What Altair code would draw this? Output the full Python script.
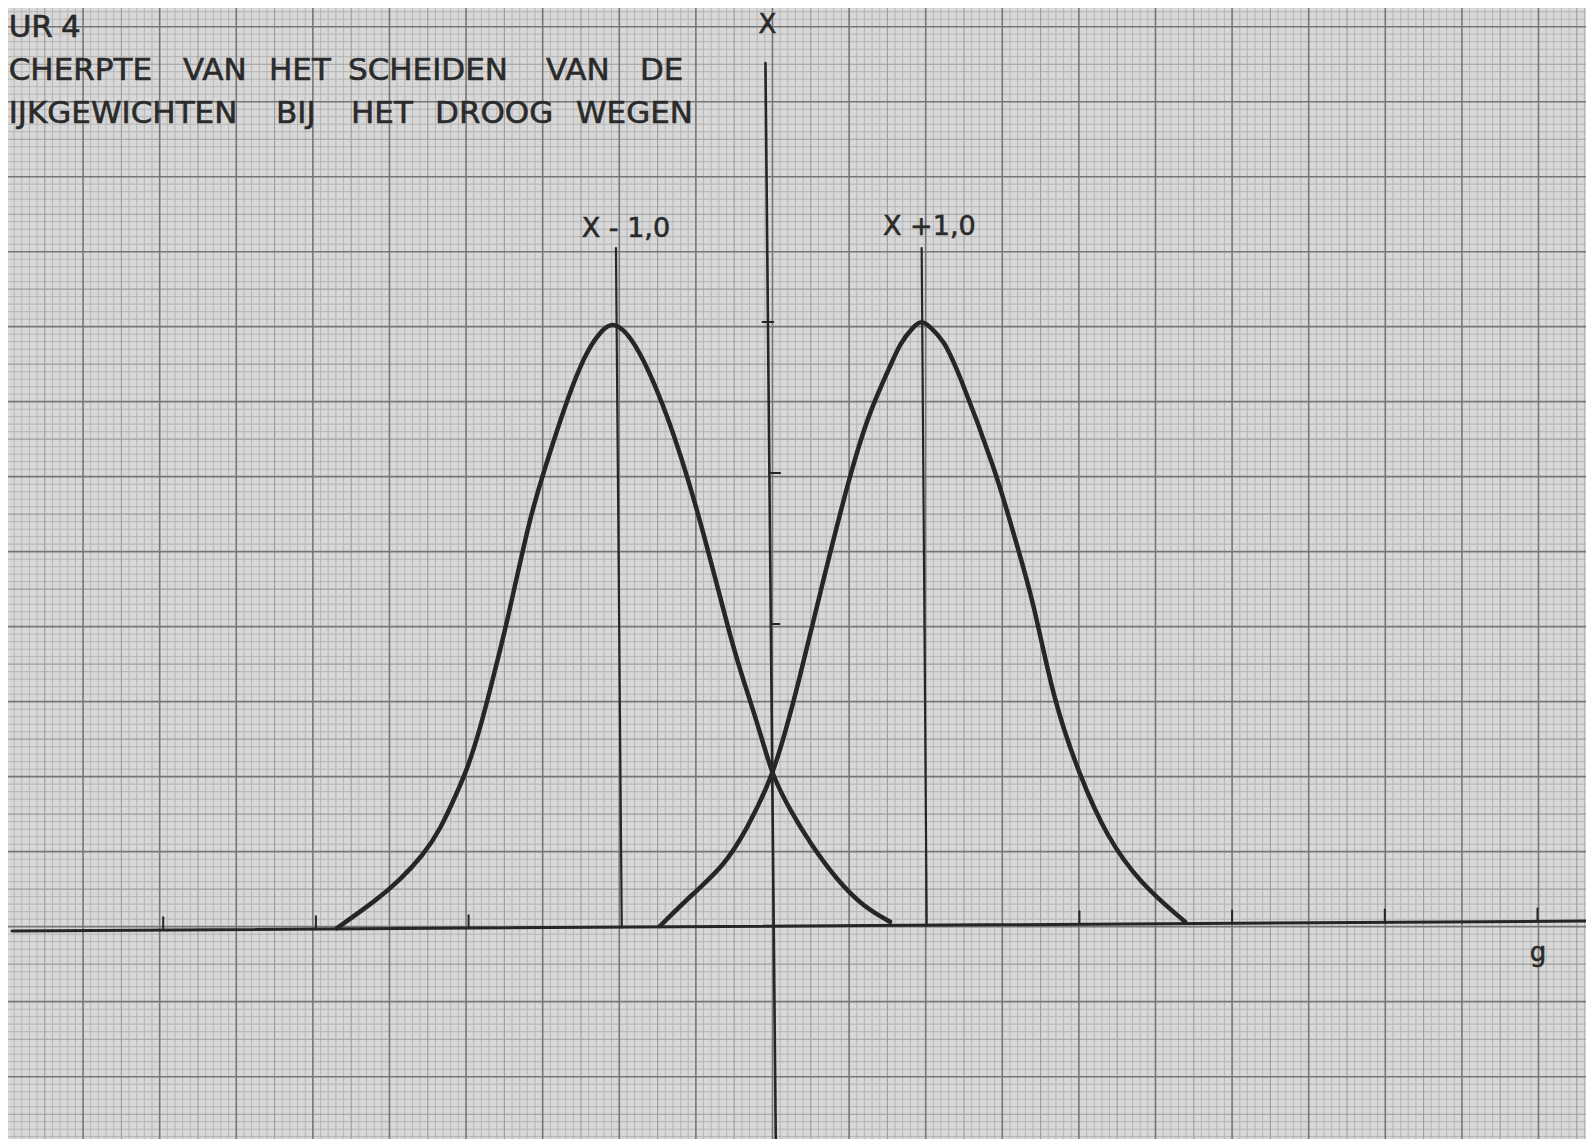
import altair as alt
import pandas as pd

# ---------------- data (units: g on x, arbitrary frequency on y)
left_x = [-2.864, -2.602, -2.449, -2.297, -2.187, -2.078, -2.012, -1.947, -1.881, -1.794,
          -1.750, -1.598, -1.511, -1.358, -1.227, -1.118, -1.052, -0.921, -0.703, -0.485,
          -0.267, -0.157, -0.070, -0.009, 0.105, 0.236, 0.411, 0.585, 0.760]
left_y = [-0.015, 0.172, 0.305, 0.470, 0.636, 0.879, 1.033, 1.232, 1.475, 1.828,
          2.005, 2.711, 2.998, 3.483, 3.815, 3.958, 4.002, 3.903, 3.417, 2.711,
          1.828, 1.497, 1.210, 0.993, 0.768, 0.548, 0.305, 0.128, 0.028]

right_x = [-0.747, -0.528, -0.332, -0.179, -0.009, 0.083, 0.149, 0.301, 0.498,
           0.629, 0.760, 0.825, 0.912, 0.967, 1.022, 1.109, 1.196, 1.458, 1.567,
           1.698, 1.829, 2.004, 2.179, 2.397, 2.692]
right_y = [0.000, 0.217, 0.393, 0.636, 0.993, 1.320, 1.563, 2.203, 2.998,
           3.417, 3.704, 3.859, 3.969, 4.013, 3.969, 3.881, 3.704, 2.998, 2.601,
           2.159, 1.497, 0.989, 0.591, 0.283, 0.028]

# hand-drawn axes (slightly slanted)
xaxis_x = [-4.99, 5.32]
xaxis_y = [-0.033, 0.033]
yaxis_x = [-0.056, 0.012]
yaxis_y = [5.715, -1.46]

# tick marks on the g-axis
xtick_x = [-4, -3, -2, 2, 3, 4, 5]
xtick_y0 = [-0.027, -0.020, -0.014, 0.012, 0.018, 0.024, 0.031]
xtick_len = 0.085

# tick marks on the vertical axis
ytick_y = [4, 3, 2]
ytick_x0 = [-0.075, -0.030, -0.021]
ytick_x1 = [-0.005, 0.040, 0.035]

# vertical lines through the two means (X - 1,0 and X + 1,0)
peak_x_top = [-1.035, 0.967]
peak_y_top = [4.49, 4.49]
peak_x_bot = [-0.997, 1.000]
peak_y_bot = [-0.01, 0.00]

# title words (text, left edge, line height)
title_words = ["UR", "4",
               "CHERPTE", "VAN", "HET", "SCHEIDEN", "VAN", "DE",
               "IJKGEWICHTEN", "BIJ", "HET", "DROOG", "WEGEN"]
title_x = [-5.012, -4.669,
           -5.012, -3.870, -3.307, -2.790, -1.493, -0.878,
           -5.012, -3.261, -2.770, -2.220, -1.297]
title_y = [5.944, 5.944,
           5.661, 5.661, 5.661, 5.661, 5.661, 5.661,
           5.378, 5.378, 5.378, 5.378, 5.378]

label_text = ["X - 1,0", "X +1,0"]
label_x = [-1.259, 0.714]
label_y = [4.616, 4.629]

axis_label_text = ["X", "g"]
axis_label_x = [-0.043, 5.003]
axis_label_y = [5.964, -0.176]

# ---------------- scales
XD = [-5.0164, 5.3176]
YD = [-1.4106, 6.0795]
xs = alt.Scale(domain=XD, nice=False, zero=False)
ys = alt.Scale(domain=YD, nice=False, zero=False)

# graph paper (mm units)
GXD = [-99.80, 106.20]
GYD = [-28.31, 122.49]
gxs = alt.Scale(domain=GXD, nice=False, zero=False)
gys = alt.Scale(domain=GYD, nice=False, zero=False)

vx = list(range(-100, 107))
hy = list(range(-29, 123))

def grid_rules(vals, ch, color, width):
    df = pd.DataFrame({"v": vals})
    if ch == "x":
        enc = {"x": alt.X("v:Q", scale=gxs, axis=None)}
    else:
        enc = {"y": alt.Y("v:Q", scale=gys, axis=None)}
    return alt.Chart(df).mark_rule(color=color, strokeWidth=width).encode(**enc)

fine_c, med_c, maj_c = "#b5b5b5", "#9c9c9c", "#767676"
grid = alt.layer(
    grid_rules([v for v in vx if v % 5], "x", fine_c, 1),
    grid_rules([v for v in hy if v % 5], "y", fine_c, 1),
    grid_rules([v for v in vx if v % 5 == 0 and v % 10], "x", med_c, 1.1),
    grid_rules([v for v in hy if v % 5 == 0 and v % 10], "y", med_c, 1.1),
    grid_rules([v for v in vx if v % 10 == 0], "x", maj_c, 1.6),
    grid_rules([v for v in hy if v % 10 == 0], "y", maj_c, 1.6),
)

INK = "#262626"

curves = pd.concat([
    pd.DataFrame({"x": left_x, "y": left_y, "curve": "X - 1,0", "i": range(len(left_x))}),
    pd.DataFrame({"x": right_x, "y": right_y, "curve": "X + 1,0", "i": range(len(right_x))}),
])

curve_layer = alt.Chart(curves).mark_line(
    color=INK, strokeWidth=4.5, interpolate="basis", strokeCap="round", clip=True
).encode(
    x=alt.X("x:Q", scale=xs, axis=None),
    y=alt.Y("y:Q", scale=ys, axis=None),
    detail="curve:N",
    order="i:Q",
)

def seg_chart(x0, y0, x1, y1, width):
    df = pd.DataFrame({"x0": x0, "y0": y0, "x1": x1, "y1": y1})
    return alt.Chart(df).mark_rule(color=INK, strokeWidth=width, strokeCap="round").encode(
        x=alt.X("x0:Q", scale=xs, axis=None),
        y=alt.Y("y0:Q", scale=ys, axis=None),
        x2="x1:Q",
        y2="y1:Q",
    )

xaxis = seg_chart([xaxis_x[0]], [xaxis_y[0]], [xaxis_x[1]], [xaxis_y[1]], 3)
yaxis = seg_chart([yaxis_x[0]], [yaxis_y[0]], [yaxis_x[1]], [yaxis_y[1]], 2.6)
xticks = seg_chart(xtick_x, xtick_y0, xtick_x, [v + xtick_len for v in xtick_y0], 2)
yticks = seg_chart(ytick_x0, ytick_y, ytick_x1, ytick_y, 2)
peaks = seg_chart(peak_x_top, peak_y_top, peak_x_bot, peak_y_bot, 2.2)

def text_chart(texts, xv, yv, size, align="left"):
    df = pd.DataFrame({"t": texts, "x": xv, "y": yv})
    return alt.Chart(df).mark_text(
        align=align, baseline="middle", font="DejaVu Sans", fontSize=size,
        color="#2a2a2a", stroke="#2a2a2a", strokeWidth=0.6
    ).encode(
        x=alt.X("x:Q", scale=xs, axis=None),
        y=alt.Y("y:Q", scale=ys, axis=None),
        text="t:N",
    )

titles = text_chart(title_words, title_x, title_y, 31)
labels = text_chart(label_text, label_x, label_y, 27)
axis_labels = text_chart(axis_label_text, axis_label_x, axis_label_y, 26, align="center")

main = alt.layer(curve_layer, xaxis, yaxis, xticks, yticks, peaks, titles, labels, axis_labels)

chart = alt.layer(grid, main).resolve_scale(
    x="independent", y="independent"
).properties(
    width=1578, height=1131, padding=0,
    autosize=alt.AutoSizeParams(type="none"),
).configure(background="#d8d8d8").configure_view(strokeWidth=0)

chart.save("out.html", embed_options={"renderer": "svg", "actions": False})
